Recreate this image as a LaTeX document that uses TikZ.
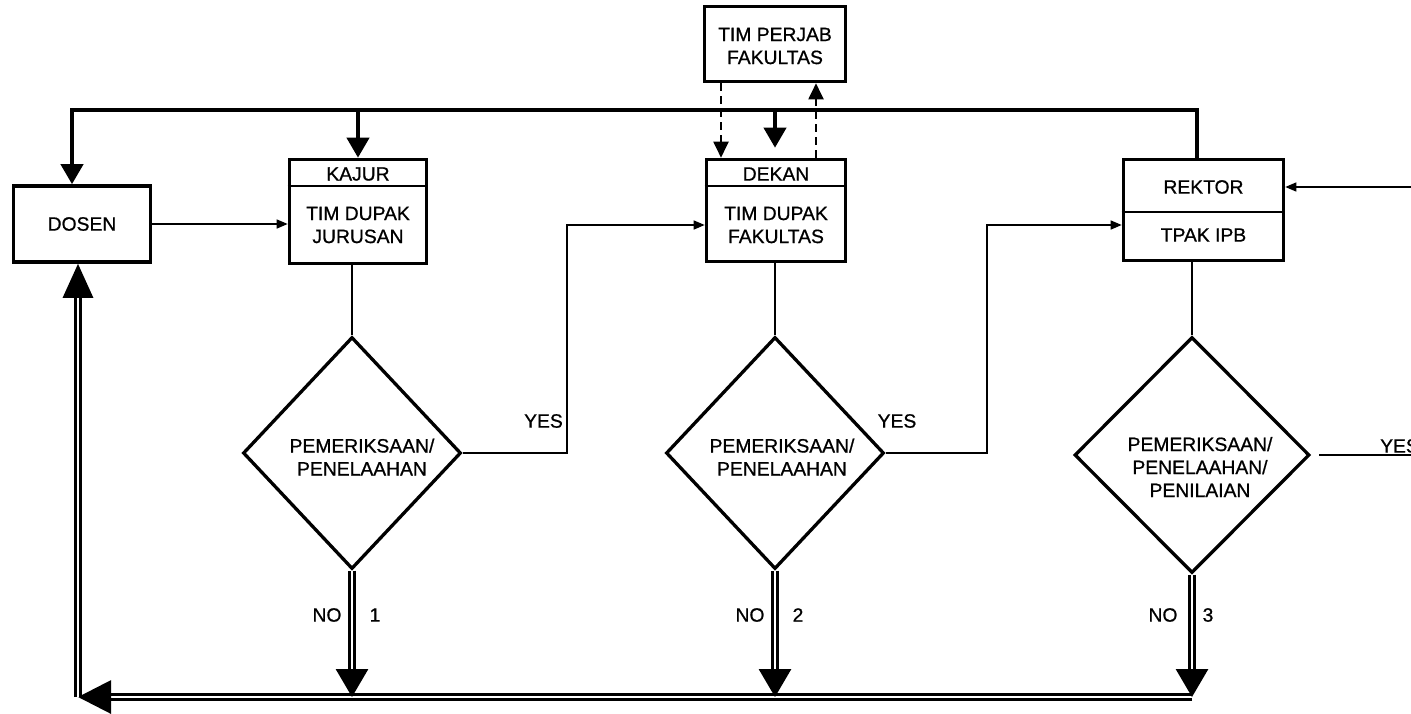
\documentclass[tikz,border=0pt]{standalone}
\usepackage{fontspec}
\setmainfont{Liberation Sans}[FakeBold=0.8]
\usetikzlibrary{arrows.meta,shapes.geometric,calc}
\begin{document}
\begin{tikzpicture}[x=1pt,y=-1pt,
  every node/.style={font=\fontsize{19.3}{23}\selectfont},
  box/.style={draw, line width=3.6pt, rectangle, inner sep=0pt},
  txt/.style={align=center, inner sep=0pt},
  dia/.style={draw, diamond, line width=3.3pt, inner sep=0pt, line join=miter},
  thinline/.style={line width=1.4pt},
  thinarrow/.style={line width=1.4pt, -{Triangle[length=11pt,width=9pt]}},
  thickarrow/.style={line width=4pt, line join=miter, -{Triangle[length=20pt,width=22pt]}},
  thickline/.style={line width=4pt},
  dasharrow/.style={line width=2pt, dash pattern=on 8pt off 5pt, -{Triangle[length=16pt,width=15pt]}},
  dbl/.style={line width=3pt, double, double distance=2pt, -{Triangle[length=28pt,width=32pt]}},
]
\useasboundingbox (0,0) rectangle (1411,713);
\clip (0,0) rectangle (1411,713);

% boxes
\node[box, minimum width=137pt, minimum height=76pt] (dosen) at (82,224) {DOSEN};

\node[box, minimum width=137pt, minimum height=104pt] (kajur) at (358,211.5) {};
\node[txt] (kajurh) at (358,174) {KAJUR};
\node[txt] (kajurb) at (358,225) {TIM DUPAK\\JURUSAN};
\coordinate (kdiv) at (358,186);
\draw[thinline] (kajur.west |- kdiv) -- (kajur.east |- kdiv);

\node[box, minimum width=139pt, minimum height=102pt] (dekan) at (776,210.5) {};
\node[txt] (dekanh) at (776,174) {DEKAN};
\node[txt] (dekanb) at (776,225) {TIM DUPAK\\FAKULTAS};
\coordinate (ddiv) at (776,186);
\draw[thinline] (dekan.west |- ddiv) -- (dekan.east |- ddiv);

\node[box, minimum width=160pt, minimum height=101pt] (rektor) at (1203.5,210) {};
\node[txt] (rektorh) at (1203.5,187) {REKTOR};
\node[txt] (rektorb) at (1203.5,235) {TPAK IPB};
\coordinate (rdiv) at (1203.5,212);
\draw[thinline] (rektor.west |- rdiv) -- (rektor.east |- rdiv);

\node[box, minimum width=141pt, minimum height=75pt] (perjab) at (775,44) {};
\node[txt] (perjabt) at (775,46) {TIM PERJAB\\FAKULTAS};

% diamonds
\node[dia, minimum width=218pt, minimum height=232pt] (d1) at (352,453) {};
\node[txt] (d1t) at (362,457) {PEMERIKSAAN/\\PENELAAHAN};
\node[dia, minimum width=218pt, minimum height=232pt] (d2) at (775,453) {};
\node[txt] (d2t) at (782,457) {PEMERIKSAAN/\\PENELAAHAN};
\node[dia, minimum width=235pt, minimum height=236pt] (d3) at (1192,455) {};
\node[txt] (d3t) at (1200,467) {PEMERIKSAAN/\\PENELAAHAN/\\PENILAIAN};

% box to diamond connectors
\draw[thinline] (kajur.south -| d1.north) -- (d1.north);
\draw[thinline] (dekan.south -| d2.north) -- (d2.north);
\draw[thinline] (rektor.south -| d3.north) -- (d3.north);

% thin arrows
\draw[thinarrow] (dosen.east) -- (dosen.east -| kajur.west);
\coordinate (y1a) at (567,453);
\coordinate (y1b) at (567,225);
\draw[thinarrow] (d1.east) -- (y1a) -- (y1b) -- (y1b -| dekan.west);
\coordinate (y2a) at (987,453);
\coordinate (y2b) at (987,225);
\draw[thinarrow] (d2.east) -- (y2a) -- (y2b) -- (y2b -| rektor.west);
\coordinate (y3end) at (1411,455);
\draw[thinline] ([xshift=8pt]d3.east) -- (y3end);
\coordinate (rin) at (1411,187);
\draw[thinarrow] (rin) -- (rin -| rektor.east);

% YES labels
\node[txt, anchor=east] (yes1) at (563,421) {YES};
\node[txt] (yes2) at (897,421) {YES};
\node[txt, anchor=west] (yes3) at (1380,446) {YES};

% top thick line
\coordinate (tR) at (1197,110);
\coordinate (tL) at (72,110);
\coordinate (tD) at (775,110);
\draw[thickarrow] (rektor.north -| tR) -- (tR) -- (tL) -- (tL |- dosen.north);
\draw[thickarrow] (tL -| kajur.north) -- (kajur.north);
\draw[thickarrow, shorten >=10pt] (tD) -- (tD |- dekan.north);

% dashed
\coordinate (dl) at (721,0);
\coordinate (dr) at (816,0);
\draw[dasharrow] (perjab.south -| dl) -- (dekan.north -| dl);
\draw[dasharrow] (dekan.north -| dr) -- (perjab.south -| dr);

% double return lines
\coordinate (bl) at (78,697);
\draw[dbl, -{Triangle[length=33pt,width=33pt]}] (d3.south |- bl) -- (bl);
\draw[dbl, -{Triangle[length=34pt,width=30pt]}] (bl) -- (bl |- dosen.south);
\draw[dbl] (d1.south) -- (d1.south |- bl);
\draw[dbl] (d2.south) -- (d2.south |- bl);
\draw[dbl] (d3.south) -- (d3.south |- bl);

% NO labels
\node[txt] (no1) at (327,615) {NO};
\node[txt] (n1) at (375,615) {1};
\node[txt] (no2) at (750,615) {NO};
\node[txt] (n2) at (798,615) {2};
\node[txt] (no3) at (1163,615) {NO};
\node[txt] (n3) at (1208,615) {3};
\end{tikzpicture}
\end{document}
